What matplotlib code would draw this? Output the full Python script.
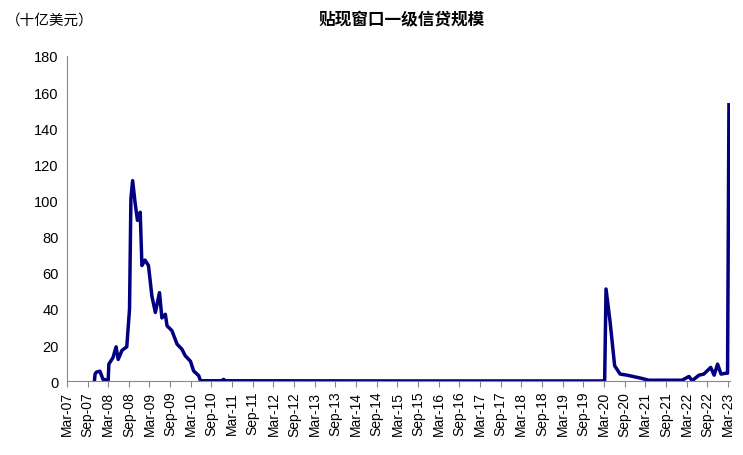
import matplotlib
matplotlib.use("Agg")
import matplotlib.pyplot as plt

# months since Mar-07
months = [8.0, 8.2, 8.6, 9.6, 10.5, 12.0, 12.2, 13.4, 14.3, 14.9, 16.0, 17.4, 18.2, 18.6, 19.1,
          19.8, 20.5, 21.3, 21.8, 22.7, 23.7, 24.7, 25.7, 26.9, 27.6, 28.6, 29.1, 30.5, 32.0,
          33.4, 34.4, 35.9, 36.8, 38.3, 38.8, 45.0, 45.5, 46.0, 100.0, 156.2, 156.6, 157.8,
          159.1, 160.7, 162.7, 167.0, 169.0, 178.7, 180.7, 181.6, 183.6, 185.0, 187.0, 188.0,
          189.0, 190.0, 191.5, 191.9, 192.3]
values = [0, 4.0, 5.0, 5.5, 1.0, 0.5, 9.5, 13, 19, 12, 17, 19, 40, 101, 111,
          99, 89, 93.5, 64, 67, 64, 47, 38, 49, 35, 37, 30.6, 28, 20.5,
          17.7, 14, 11, 5.7, 3, 0.2, 0.2, 1.0, 0.2, 0.1, 0.1, 51, 32.5,
          8.5, 3.9, 3.3, 1.5, 0.5, 0.5, 2.6, 0.2, 3.3, 3.9, 7.6, 3.3,
          9.4, 3.9, 4.4, 4.4, 153]
tick_labels = []
for yr in range(7, 24):
    tick_labels.append(f"Mar-{yr:02d}")
    if yr < 23:
        tick_labels.append(f"Sep-{yr:02d}")
tick_pos = [6 * i for i in range(len(tick_labels))]

plt.rcParams['font.family'] = ['Liberation Sans', 'Noto Sans CJK SC', 'DejaVu Sans']
fig = plt.figure(figsize=(7.43, 4.56), dpi=100)
ax = fig.add_axes([0.09, 0.162, 0.892, 0.713])
ax.plot(months, values, color='#000080', lw=2.5)
ax.set_xlim(0, 192.5)
ax.set_ylim(0, 180)
ax.set_yticks(range(0, 181, 20))
ax.set_xticks(tick_pos)
ax.set_xticklabels(tick_labels, rotation=90, fontsize=10)
ax.tick_params(axis='y', labelsize=10.5, length=0, pad=6)
ax.tick_params(axis='x', length=4, color='#888888', pad=3)
for s in ['top', 'right']:
    ax.spines[s].set_visible(False)
for s in ['left', 'bottom']:
    ax.spines[s].set_color('#888888')
fig.text(0.54, 0.955, '贴现窗口一级信贷规模', ha='center', va='center', fontsize=12,
         fontweight='bold', family=['Noto Sans CJK SC', 'DejaVu Sans'])
fig.text(0.008, 0.955, '（十亿美元）', ha='left', va='center', fontsize=10.5,
         family=['Noto Sans CJK SC', 'DejaVu Sans'])
fig.savefig('out.png', dpi=100)
